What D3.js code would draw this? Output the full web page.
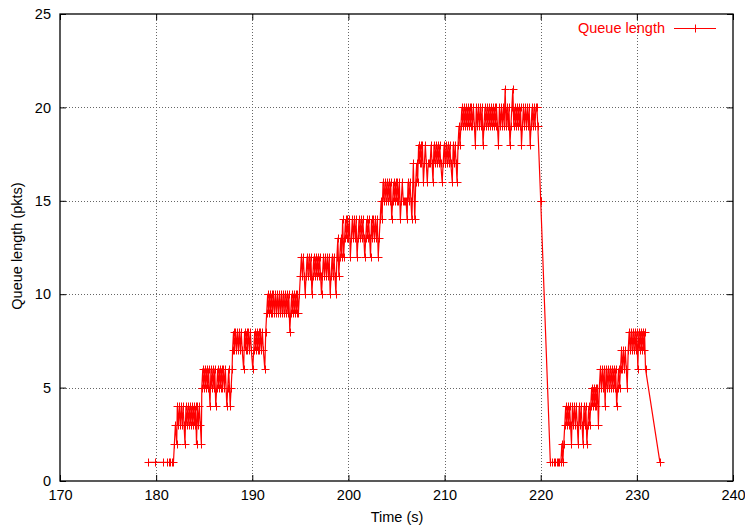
<!DOCTYPE html>
<html><head><meta charset="utf-8">
<script src="https://cdn.jsdelivr.net/npm/d3@7"></script>
<style>
body{margin:0;background:#fff}
svg{display:block}
text{font-family:"Liberation Sans",Arial,Helvetica,sans-serif}
</style>
</head><body>
<svg id="chart" width="745" height="527"></svg>
<script>
// ---- data ----
const xTicks = [170, 180, 190, 200, 210, 220, 230, 240];
const yTicks = [0, 5, 10, 15, 20, 25];
const xTitle = "Time (s)";
const yTitle = "Queue length (pkts)";
const seriesName = "Queue length";

// [time (s), queue length (pkts)]
const queueSamples = [
  [179.2,1],[179.9,1],[180.75,1],[181.1,1],[181.3,1],[181.45,1],[181.6,1],[181.8,1],
  [181.9,2],[182.0,3],[182.14,2],[182.2,4],[182.3,3],[182.4,4],[182.5,3],[182.6,4],[182.7,3],[182.8,4],[182.9,3],[183.0,2],
  [183.1,4],[183.2,3],[183.3,4],[183.4,3],[183.5,4],[183.6,3],[183.7,4],[183.8,3],[183.9,4],[184.0,3],[184.1,4],[184.2,2],
  [184.3,4],[184.4,3],[184.5,4],[184.6,3],[184.7,2],
  [184.75,5],[184.85,6],[184.95,5],[185.05,6],[185.15,5],[185.25,6],[185.35,5],[185.45,6],[185.6,4],[185.7,6],[185.8,5],
  [185.9,6],[186.0,5],[186.1,6],[186.2,4],[186.3,5],[186.4,6],[186.5,5],[186.6,6],[186.7,5],[186.8,6],[186.9,5],[187.0,6],
  [187.1,5],[187.2,6],[187.35,4],[187.45,5],[187.55,6],[187.7,4],[187.8,5],[187.9,6],
  [187.95,7],[188.05,8],[188.15,7],[188.25,8],[188.35,7],[188.45,8],[188.55,7],[188.65,8],[188.75,7],[188.85,8],[188.95,7],
  [189.1,6],[189.2,8],[189.3,7],[189.4,8],[189.5,7],[189.6,8],[189.7,7],[189.8,8],[189.9,7],[190.05,6],[190.15,7],[190.25,8],
  [190.35,7],[190.45,8],[190.55,7],[190.65,8],[190.75,7],[190.85,8],[190.95,7],[191.05,8],[191.15,7],[191.3,6],
  [191.4,8],[191.5,9],[191.6,10],[191.7,9],[191.8,10],[191.9,9],[192.0,10],[192.1,9],[192.2,10],[192.3,9],[192.4,10],
  [192.5,9],[192.6,10],[192.7,9],[192.8,10],[192.9,9],[193.0,10],[193.1,9],[193.2,10],[193.3,9],[193.4,10],[193.5,9],
  [193.6,10],[193.7,9],[193.8,10],[193.9,8],[194.0,9],[194.1,10],[194.2,9],[194.3,10],[194.4,9],[194.5,10],[194.6,9],
  [194.7,10],[194.8,9],[194.9,10],
  [195.0,11],[195.1,12],[195.2,11],[195.3,12],[195.4,11],[195.5,10],[195.6,11],[195.7,12],[195.8,11],[195.9,12],[196.0,11],
  [196.1,12],[196.2,10],[196.3,11],[196.4,12],[196.5,11],[196.6,12],[196.7,11],[196.8,12],[196.9,11],[197.0,12],[197.1,11],
  [197.2,10],[197.3,11],[197.4,12],[197.5,11],[197.6,12],[197.7,11],[197.8,12],[197.9,11],[198.0,12],[198.1,10],[198.2,11],
  [198.3,12],[198.4,11],[198.5,12],[198.6,11],[198.7,10],[198.8,12],[198.9,13],[199.0,11],[199.1,12],[199.2,13],[199.3,12],
  [199.4,14],[199.5,12],[199.6,13],[199.7,14],
  [199.8,13],[199.9,14],[200.0,13],[200.1,14],[200.2,12],[200.3,13],[200.4,14],[200.5,13],[200.6,14],[200.7,13],[200.8,14],
  [200.9,12],[201.0,13],[201.1,14],[201.2,13],[201.3,14],[201.4,13],[201.5,14],[201.6,13],[201.7,12],[201.8,13],[201.9,14],
  [202.0,13],[202.1,14],[202.2,13],[202.3,12],[202.4,14],[202.5,13],[202.6,14],[202.7,13],[202.8,14],[202.9,13],[203.0,14],
  [203.1,12],[203.2,13],
  [203.3,14],[203.4,15],[203.5,14],[203.6,16],[203.7,15],[203.8,16],[203.9,15],[204.0,16],[204.1,15],[204.2,16],[204.3,15],
  [204.4,16],[204.5,14],[204.6,15],[204.7,16],[204.8,15],[204.9,16],[205.0,15],[205.1,16],[205.2,15],[205.3,16],[205.4,14],
  [205.5,15],[205.6,16],[205.7,15],[205.8,15],[205.9,15],[206.0,15],[206.1,14],[206.2,16],[206.3,15],[206.4,16],[206.5,15],
  [206.6,14],[206.7,16],[206.75,17],[206.85,15],[206.9,14],[207.0,16],[207.1,17],[207.2,16],
  [207.3,18],[207.4,17],[207.5,18],[207.6,17],[207.7,18],[207.8,16],[207.9,17],[208.0,18],[208.1,17],[208.2,16],[208.3,17],
  [208.4,17],[208.5,17],[208.6,18],[208.7,17],[208.8,16],[208.9,18],[209.0,17],[209.1,18],[209.2,17],[209.3,18],[209.4,17],
  [209.5,18],[209.6,17],[209.75,16],[209.85,17],[209.95,18],[210.05,17],[210.15,18],[210.25,17],[210.35,18],[210.45,17],
  [210.55,18],[210.65,17],[210.8,16],[210.9,18],[211.0,17],[211.1,18],[211.2,17],[211.3,16],[211.4,18],[211.5,19],[211.6,18],
  [211.7,19],
  [211.8,20],[211.9,19],[212.0,20],[212.1,19],[212.2,20],[212.3,19],[212.4,20],[212.5,19],[212.6,20],[212.7,19],[212.8,20],
  [212.9,19],[213.0,20],[213.1,19],[213.2,18],[213.3,20],[213.4,19],[213.5,20],[213.6,19],[213.7,20],[213.8,19],[213.9,20],
  [214.0,18],[214.1,19],[214.2,20],[214.3,19],[214.4,20],[214.5,19],[214.6,20],[214.7,19],[214.8,20],[214.9,19],[215.0,20],
  [215.1,19],[215.2,20],[215.3,19],[215.4,20],[215.5,19],[215.6,18],[215.7,20],[215.8,19],[215.9,20],[216.0,19],[216.1,20],
  [216.2,19],[216.3,21],[216.4,19],[216.5,20],[216.6,19],[216.7,20],[216.8,18],[216.9,19],[217.0,20],[217.1,21],[217.2,19],
  [217.3,20],[217.4,19],[217.5,20],[217.6,19],[217.7,20],[217.8,19],[217.9,20],[218.0,18],[218.1,19],[218.2,20],[218.3,19],
  [218.4,20],[218.5,19],[218.6,20],[218.7,19],[218.8,20],[218.9,18],[219.0,19],[219.1,20],[219.2,19],[219.3,20],[219.4,19],
  [219.5,20],[219.6,20],[219.7,19],
  [220.0,15],
  [221.0,1],[221.2,1],[221.35,1],[221.5,1],[221.65,1],[221.8,1],[221.95,1],[222.1,1],[222.2,2],[222.3,1],[222.4,2],
  [222.5,3],[222.6,4],[222.7,3],[222.8,4],[222.9,3],[223.0,4],[223.1,3],[223.2,2],[223.3,4],[223.4,3],[223.5,4],[223.6,3],
  [223.7,4],[223.8,3],[223.9,2],[224.0,4],[224.1,3],[224.2,4],[224.3,3],[224.4,2],[224.5,4],[224.6,3],[224.7,4],[224.8,2],
  [224.9,3],[225.0,4],[225.1,3],
  [225.2,4],[225.3,5],[225.4,4],[225.5,5],[225.6,4],[225.7,5],[225.8,4],[225.9,5],[226.0,3],[226.1,5],[226.2,6],[226.3,5],
  [226.4,6],[226.5,5],[226.6,6],[226.7,4],[226.8,6],[226.9,5],[227.0,6],[227.1,5],[227.2,6],[227.3,5],[227.4,6],[227.5,5],
  [227.6,6],[227.7,5],[227.8,6],[227.9,4],[228.0,5],[228.1,6],[228.2,5],[228.3,6],
  [228.4,7],[228.5,6],[228.6,7],[228.7,6],[228.8,7],[228.9,6],[229.0,5],[229.1,7],[229.2,8],[229.3,7],[229.4,8],[229.5,7],
  [229.6,8],[229.7,7],[229.8,8],[229.9,7],[230.0,8],[230.1,6],[230.2,8],[230.3,7],[230.4,8],[230.5,7],[230.6,8],[230.7,7],
  [230.8,8],[230.9,6],
  [232.4,1]
];

// ---- drawing ----
const svg = d3.select("#chart");
const W = 745, H = 527;
const plot = {left: 60, right: 733, top: 14, bottom: 481};
const FONT = "14.5px";
const RED = "#ff0000";

const x = d3.scaleLinear().domain([170, 240]).range([plot.left, plot.right]);
const y = d3.scaleLinear().domain([0, 25]).range([plot.bottom, plot.top]);
const px = v => Math.round(v) + 0.5;

svg.append("rect").attr("width", W).attr("height", H).attr("fill", "#fff");

// grid
const grid = svg.append("g").attr("stroke", "#666").attr("stroke-width", 1)
  .attr("stroke-dasharray", "1,2");
grid.selectAll("line.gx").data(xTicks.slice(1, -1)).join("line")
  .attr("x1", d => px(x(d))).attr("x2", d => px(x(d)))
  .attr("y1", plot.top).attr("y2", plot.bottom);
grid.selectAll("line.gy").data(yTicks.slice(1, -1)).join("line")
  .attr("y1", d => px(y(d))).attr("y2", d => px(y(d)))
  .attr("x1", plot.left).attr("x2", plot.right);

// axes
const styleAxis = g => {
  g.select(".domain").remove();
  g.selectAll(".tick line").attr("stroke", "#000").attr("stroke-width", 1);
  g.selectAll(".tick text").attr("font-size", FONT).attr("fill", "#000")
    .attr("font-family", '"Liberation Sans",Arial,sans-serif');
};
svg.append("g").attr("transform", `translate(0,${plot.bottom})`)
  .call(d3.axisBottom(x).tickValues(xTicks).tickFormat(d3.format("d"))
    .tickSizeInner(-6).tickSizeOuter(0).tickPadding(9))
  .call(styleAxis);
svg.append("g").attr("transform", `translate(0,${plot.top})`)
  .call(d3.axisTop(x).tickValues(xTicks).tickFormat("")
    .tickSizeInner(-6).tickSizeOuter(0))
  .call(styleAxis);
svg.append("g").attr("transform", `translate(${plot.left},0)`)
  .call(d3.axisLeft(y).tickValues(yTicks).tickFormat(d3.format("d"))
    .tickSizeInner(-6).tickSizeOuter(0).tickPadding(9))
  .call(styleAxis);
svg.append("g").attr("transform", `translate(${plot.right},0)`)
  .call(d3.axisRight(y).tickValues(yTicks).tickFormat("")
    .tickSizeInner(-6).tickSizeOuter(0))
  .call(styleAxis);

// data line
const line = d3.line().x(d => x(d[0])).y(d => y(d[1]));
svg.append("path").datum(queueSamples)
  .attr("fill", "none").attr("stroke", RED).attr("stroke-width", 1.2)
  .attr("stroke-linejoin", "round")
  .attr("d", line);

// markers (+)
const plus = "M-4,0H4M0,-4V4";
svg.append("g").attr("stroke", RED).attr("stroke-width", 1).attr("fill", "none")
  .selectAll("path").data(queueSamples).join("path")
  .attr("transform", d => `translate(${px(x(d[0]))},${px(y(d[1]))})`)
  .attr("d", plus);

// border
svg.append("rect")
  .attr("x", plot.left).attr("y", plot.top)
  .attr("width", plot.right - plot.left).attr("height", plot.bottom - plot.top)
  .attr("fill", "none").attr("stroke", "#000").attr("stroke-width", 1.3);

// axis titles
svg.append("text").attr("x", 397).attr("y", 522).attr("text-anchor", "middle")
  .attr("font-size", FONT).attr("fill", "#000").text(xTitle);
svg.append("text").attr("transform", "translate(22,246) rotate(-90)")
  .attr("text-anchor", "middle").attr("font-size", FONT).attr("fill", "#000").text(yTitle);

// legend
const lg = svg.append("g");
lg.append("text").attr("x", 665).attr("y", 33).attr("text-anchor", "end")
  .attr("font-size", FONT).attr("fill", RED).text(seriesName);
lg.append("line").attr("x1", 674).attr("x2", 716).attr("y1", 28.5).attr("y2", 28.5)
  .attr("stroke", RED).attr("stroke-width", 1);
lg.append("path").attr("transform", "translate(695.5,28.5)").attr("d", plus)
  .attr("stroke", RED).attr("stroke-width", 1);
</script>
</body></html>
